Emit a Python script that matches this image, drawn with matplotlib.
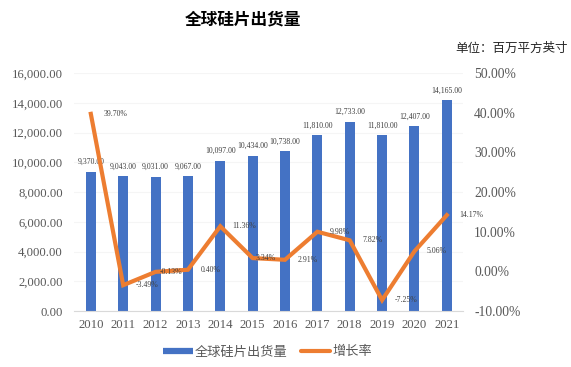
import matplotlib
matplotlib.use('Agg')
import matplotlib.pyplot as plt
from matplotlib.lines import Line2D
from matplotlib.ticker import FuncFormatter

# data
years = ['2010', '2011', '2012', '2013', '2014', '2015', '2016', '2017', '2018', '2019', '2020', '2021']
shipments = [9370, 9043, 9031, 9067, 10097, 10434, 10738, 11810, 12733, 11810, 12407, 14165]
growth = [39.70, -3.49, -0.13, 0.40, 11.36, 3.34, 2.91, 9.98, 7.82, -7.25, 5.06, 14.17]

blue = '#4472C4'
orange = '#ED7D31'
grey = '#595959'
cjk = ['Noto Sans CJK SC', 'DejaVu Sans']
serif = ['Liberation Serif', 'DejaVu Serif']

plt.rcParams['font.family'] = serif

fig = plt.figure(figsize=(5.71, 3.67), dpi=100)
ax = fig.add_axes([74/571, 1-311/367, (463-74)/571, (311-73)/367])
ax2 = ax.twinx()

x = list(range(len(years)))
ax.bar(x, shipments, width=0.31, color=blue, zorder=2)
for i, v in enumerate(shipments):
	ax.annotate(f'{v:,.2f}', (i, v), xytext=(0, 7), textcoords='offset points',
		ha='center', va='center', fontsize=5.6, color='#404040')

ax2.plot(x, growth, color=orange, linewidth=3, solid_joinstyle='miter', zorder=3)
# label nudges (points), a couple of labels sit closer to their point
nudge = [9, 9, 3, 9, 9, 2, 9, 9, 9, 9, 9, 9]
for i, v in enumerate(growth):
	ax2.annotate(f'{v:.2f}%', (i, v), xytext=(nudge[i], 0), textcoords='offset points',
		ha='left', va='center', fontsize=5.6, color='#404040')

ax.set_xlim(-0.52, 11.5)
ax.set_ylim(0, 16000)
ax.set_yticks(range(0, 16001, 2000))
ax.yaxis.set_major_formatter(FuncFormatter(lambda v, p: f'{v:,.2f}'))
ax2.set_ylim(-10, 50)
ax2.set_yticks(range(-10, 51, 10))
ax2.yaxis.set_major_formatter(FuncFormatter(lambda v, p: f'{v:.2f}%'))

ax.set_xticks(x)
ax.set_xticklabels(years)
ax.grid(axis='y', color='#f5f5f5', linewidth=0.8, zorder=0)
ax.set_axisbelow(True)

for a in (ax, ax2):
	for s in ('top', 'right', 'left', 'bottom'):
		a.spines[s].set_visible(False)
	a.tick_params(length=0, labelcolor=grey)
ax.spines['bottom'].set_visible(True)
ax.spines['bottom'].set_color('#d9d9d9')
ax.tick_params(axis='y', labelsize=9.2, pad=8)
ax.tick_params(axis='x', labelsize=9.2, pad=6)
ax2.tick_params(axis='y', labelsize=9.8, pad=8)

fig.text(243/571, 1-19/367, '全球硅片出货量', family=cjk, fontsize=12, fontweight='heavy',
	ha='center', va='center', color='black')
fig.text(568/571, 1-48/367, '单位：百万平方英寸', family=cjk, fontsize=9, ha='right', va='center',
	color='#262626')

handles = [Line2D([], [], color=blue, linewidth=4.5, solid_capstyle='butt'),
	Line2D([], [], color=orange, linewidth=3, solid_capstyle='round')]
fig.legend(handles, ['全球硅片出货量', '增长率'], loc='center', bbox_to_anchor=(268/571, 1-352/367),
	ncol=2, frameon=False, prop={'family': cjk, 'size': 9.5}, labelcolor=grey,
	handlelength=2.2, handletextpad=0.2, columnspacing=1.0)

fig.savefig('out.png', dpi=100)
